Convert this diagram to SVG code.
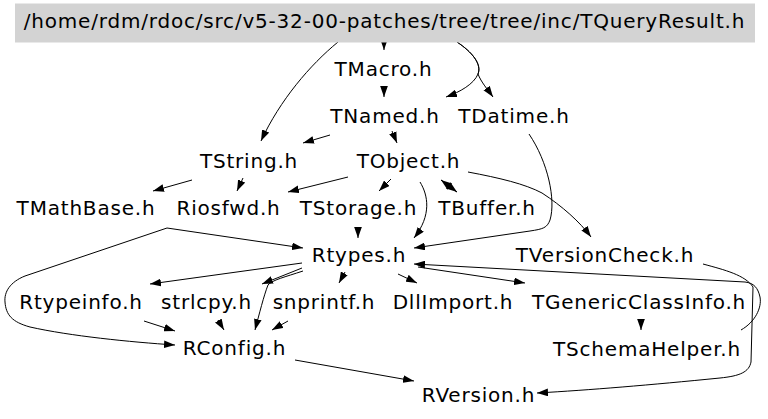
<svg xmlns="http://www.w3.org/2000/svg" width="768" height="419" viewBox="0 0 768 419">
<defs>
<style>
text{font-family:"DejaVu Sans","Liberation Sans",sans-serif;font-size:20px;letter-spacing:0.8px;fill:#000;text-anchor:middle}
.e path{fill:none;stroke:#000;stroke-width:1;marker-end:url(#ah)}
</style>
<marker id="ah" markerUnits="userSpaceOnUse" markerWidth="11" markerHeight="8" refX="10" refY="3.5" orient="auto" viewBox="0 0 10 7">
<path d="M0,0 L10,3.5 L0,7 z" fill="#000"/>
</marker>
</defs>
<rect width="768" height="419" fill="#fff"/>
<g class="e" id="connectors">
<path d="M384,41 L384,50"/>
<path d="M384,87 L384,97"/>
<path d="M338,42 C310,65 280,100 261,141"/>
<path d="M457,42 C472,52 482,64 478,74 C474,84 460,92 446,97"/>
<path d="M457,42 C472,52 482,64 478,74 C481,82 488,90 493,97"/>
<path d="M330,135 L303,143"/>
<path d="M392,131 L397,143"/>
<path d="M529,134 C548,162 556,200 550,220 C547,228 543,229 530,231 L414,248"/>
<path d="M192,180 L153,191"/>
<path d="M243,178 L237,191"/>
<path d="M348,177 L288,192"/>
<path d="M391,179 L379,191"/>
<path d="M441,180 L457,192"/>
<path d="M457,192 L441,180"/>
<path d="M420,182 C428,195 432,215 414,238"/>
<path d="M468,172 C500,178 525,184 542,193 C562,206 580,222 591,237"/>
<path d="M167,228 L303,248"/>
<path d="M167,228 L25,276 C10,282 4,292 5,302 C6,315 12,322 30,327 C70,336 130,342 175,345"/>
<path d="M358,227 L358,238"/>
<path d="M741,330 C755,322 762,308 760,297 C758,288 754,283 745,282 L414,264"/>
<path d="M703,264 C725,270 745,275 753,287 L751,362 C749,372 740,376 720,378 C650,385 590,390 537,393"/>
<path d="M302,263 L150,284"/>
<path d="M302,268 L262,284"/>
<path d="M303,271 C285,277 272,280 268,285 C264,295 259,315 255,330"/>
<path d="M345,272 L339,283"/>
<path d="M398,274 L417,283"/>
<path d="M418,267 L525,283"/>
<path d="M144,321 L175,331"/>
<path d="M218,320 L224,330"/>
<path d="M288,321 L272,330"/>
<path d="M295,360 L414,381"/>
<path d="M641,319 L641,330"/>
</g>
<g id="root"><rect x="15" y="3.5" width="740" height="39" fill="#d3d3d3"/><text x="384.5" y="28">/home/rdm/rdoc/src/v5-32-00-patches/tree/tree/inc/TQueryResult.h</text></g>
<g id="TMacro"><text x="383.5" y="76">TMacro.h</text></g>
<g id="TNamed"><text x="385" y="123">TNamed.h</text></g>
<g id="TDatime"><text x="514" y="123">TDatime.h</text></g>
<g id="TString"><text x="249" y="168">TString.h</text></g>
<g id="TObject"><text x="408.5" y="168">TObject.h</text></g>
<g id="TMathBase"><text x="86" y="215">TMathBase.h</text></g>
<g id="Riosfwd"><text x="228.5" y="215">Riosfwd.h</text></g>
<g id="TStorage"><text x="358.5" y="215">TStorage.h</text></g>
<g id="TBuffer"><text x="487" y="215">TBuffer.h</text></g>
<g id="Rtypes"><text x="359" y="262">Rtypes.h</text></g>
<g id="TVersionCheck"><text x="605" y="262">TVersionCheck.h</text></g>
<g id="Rtypeinfo"><text x="81" y="309">Rtypeinfo.h</text></g>
<g id="strlcpy"><text x="206.5" y="309">strlcpy.h</text></g>
<g id="snprintf"><text x="324" y="309">snprintf.h</text></g>
<g id="DllImport"><text x="453" y="309">DllImport.h</text></g>
<g id="TGenericClassInfo"><text x="639" y="309">TGenericClassInfo.h</text></g>
<g id="RConfig"><text x="234.5" y="355">RConfig.h</text></g>
<g id="TSchemaHelper"><text x="647" y="356">TSchemaHelper.h</text></g>
<g id="RVersion"><text x="478.5" y="402">RVersion.h</text></g>
</svg>
